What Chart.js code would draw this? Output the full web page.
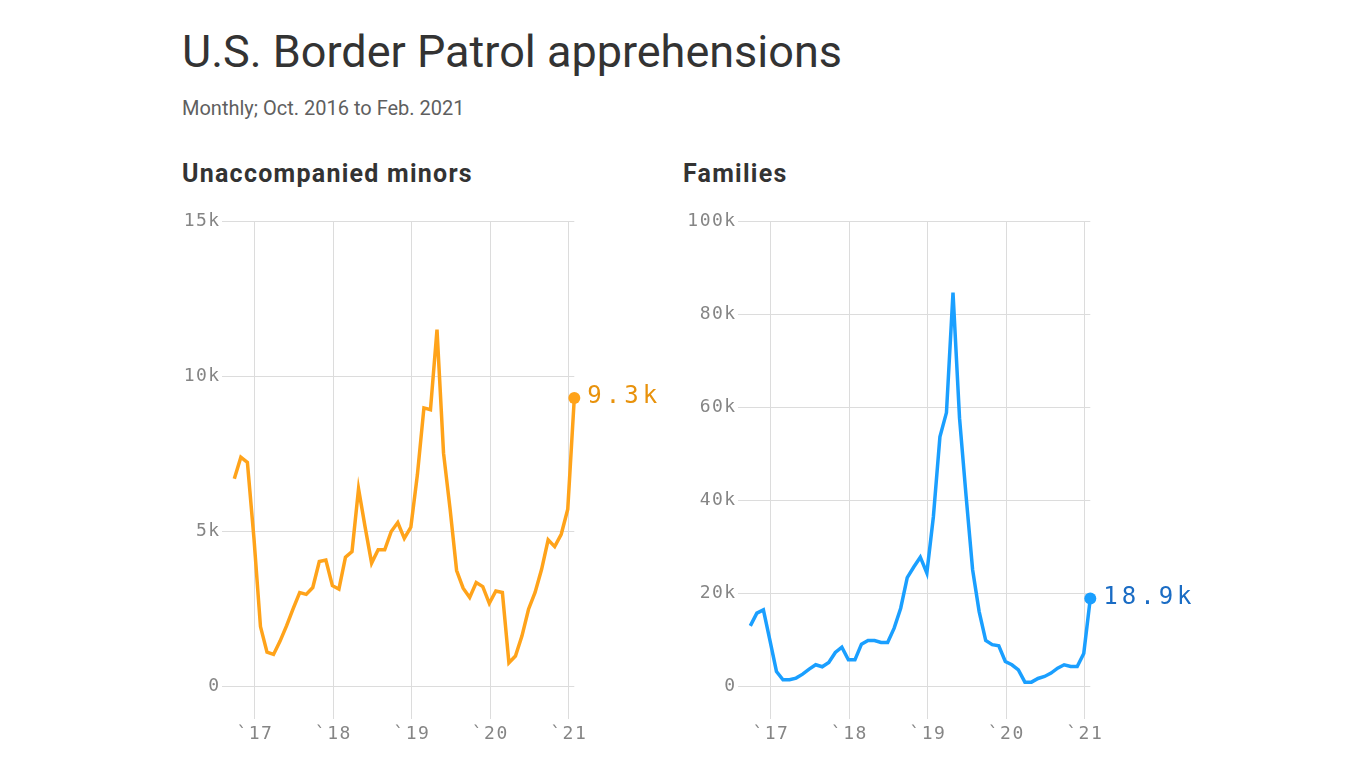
<!DOCTYPE html>
<html>
<head>
<meta charset="utf-8">
<script src="https://cdn.jsdelivr.net/npm/chart.js@4/dist/chart.umd.min.js"></script>
<style>
  body { margin: 0; background: #fff; width: 1366px; height: 768px; overflow: hidden; position: relative; font-family: Roboto, "Liberation Sans", sans-serif; }
  .t { position: absolute; white-space: nowrap; line-height: 1; }
  #title { left: 182px; top: 29px; font-size: 45px; color: #333; }
  #sub { left: 182px; top: 98px; font-size: 20px; color: #5f5f5f; }
  .ptitle { top: 161px; font-size: 25px; font-weight: 700; color: #333; letter-spacing: 1.25px; }
  .box { position: absolute; top: 200px; width: 530px; height: 560px; }
</style>
</head>
<body>
<div class="t" id="title">U.S. Border Patrol apprehensions</div>
<div class="t" id="sub">Monthly; Oct. 2016 to Feb. 2021</div>
<div class="t ptitle" style="left:182px">Unaccompanied minors</div>
<div class="t ptitle" style="left:683px">Families</div>
<div class="box" style="left:150px"><canvas id="minors"></canvas></div>
<div class="box" style="left:666px"><canvas id="families"></canvas></div>
<script>
// months from Oct 2016 to Feb 2021, values in thousands
var months = [
  'Oct 2016','Nov 2016','Dec 2016',
  'Jan 2017','Feb 2017','Mar 2017','Apr 2017','May 2017','Jun 2017','Jul 2017','Aug 2017','Sep 2017','Oct 2017','Nov 2017','Dec 2017',
  'Jan 2018','Feb 2018','Mar 2018','Apr 2018','May 2018','Jun 2018','Jul 2018','Aug 2018','Sep 2018','Oct 2018','Nov 2018','Dec 2018',
  'Jan 2019','Feb 2019','Mar 2019','Apr 2019','May 2019','Jun 2019','Jul 2019','Aug 2019','Sep 2019','Oct 2019','Nov 2019','Dec 2019',
  'Jan 2020','Feb 2020','Mar 2020','Apr 2020','May 2020','Jun 2020','Jul 2020','Aug 2020','Sep 2020','Oct 2020','Nov 2020','Dec 2020',
  'Jan 2021','Feb 2021'
];

var minors = [
  6.69, 7.39, 7.22,
  4.78, 1.92, 1.09, 1.02, 1.45, 1.95, 2.50, 3.02, 2.96, 3.18, 4.02, 4.07,
  3.24, 3.13, 4.16, 4.34, 6.37, 5.14, 3.97, 4.40, 4.40, 4.99, 5.28, 4.77,
  5.13, 6.82, 8.98, 8.92, 11.51, 7.52, 5.72, 3.73, 3.16, 2.86, 3.34, 3.21,
  2.67, 3.07, 3.02, 0.75, 0.97, 1.62, 2.48, 3.02, 3.77, 4.72, 4.50, 4.90,
  5.71, 9.30
];

var families = [
  13.04, 15.76, 16.48,
  9.90, 3.22, 1.43, 1.43, 1.80, 2.65, 3.72, 4.66, 4.23, 5.16, 7.31, 8.45,
  5.73, 5.73, 9.10, 9.89, 9.89, 9.46, 9.46, 12.54, 16.83, 23.42, 25.70, 27.80,
  24.40, 36.50, 53.70, 58.90, 84.70, 57.70, 41.00, 25.10, 16.10, 9.90, 9.00, 8.74,
  5.37, 4.66, 3.58, 0.93, 0.93, 1.72, 2.15, 2.87, 3.94, 4.66, 4.30, 4.30,
  7.10, 18.90
];

var yearLabels = ['`17', '`18', '`19', '`20', '`21'];
var yearStarts = ['Jan 2017', 'Jan 2018', 'Jan 2019', 'Jan 2020', 'Jan 2021'];
var minorsTicks = [0, 5, 10, 15];
var familiesTicks = [0, 20, 40, 60, 80, 100];

var monoFont = '"DejaVu Sans Mono", "Liberation Mono", monospace';

// label next to the last point
var endLabel = {
  id: 'endLabel',
  beforeDraw: function(chart) { chart.ctx.letterSpacing = '1.5px'; },
  afterDatasetsDraw: function(chart, args, opts) {
    var meta = chart.getDatasetMeta(0);
    var pt = meta.data[meta.data.length - 1];
    var ctx = chart.ctx;
    ctx.save();
    ctx.letterSpacing = '4px';
    ctx.font = '24px ' + monoFont;
    ctx.fillStyle = opts.color;
    ctx.textBaseline = 'middle';
    ctx.textAlign = 'left';
    ctx.fillText(opts.text, pt.x + 13, pt.y - 1);
    ctx.restore();
  }
};

function crearPanel(idCanvas, valores, ticksY, minY, maxY, colorLinea, colorTexto) {
  var ctx = document.getElementById(idCanvas).getContext('2d');
  var ultimo = valores.length - 1;

  new Chart(ctx, {
    type: 'line',
    data: {
      datasets: [{
        data: valores.map(function(v, i) { return { x: i, y: v }; }),
        borderColor: colorLinea,
        backgroundColor: colorLinea,
        borderWidth: 3.5,
        tension: 0,
        borderJoinStyle: 'miter',
        pointRadius: function(c) { return c.dataIndex === ultimo ? 6 : 0; },
        pointBorderWidth: 0,
        pointBackgroundColor: colorLinea,
        clip: false
      }]
    },
    options: {
      responsive: true,
      maintainAspectRatio: false,
      animation: false,
      layout: { padding: { left: 0, right: 105.7, top: 21.5, bottom: 11 } },
      plugins: {
        legend: { display: false },
        tooltip: { enabled: false },
        endLabel: { text: valores[ultimo].toFixed(1) + 'k', color: colorTexto }
      },
      scales: {
        x: {
          type: 'linear',
          min: -1.93,
          max: ultimo,
          grid: { color: '#dcdcdc', lineWidth: 1, drawTicks: false },
          border: { display: false },
          afterBuildTicks: function(s) {
            s.ticks = yearStarts.map(function(m) { return { value: months.indexOf(m) + 0.15 }; });
          },
          afterFit: function(s) { s.height = 30; },
          ticks: {
            autoSkip: false,
            maxRotation: 0,
            padding: 5,
            color: '#858585',
            font: { family: monoFont, size: 18 },
            callback: function(v, i) { return yearLabels[i]; }
          }
        },
        y: {
          min: minY,
          max: maxY,
          grid: { color: '#dcdcdc', lineWidth: 1, drawTicks: false },
          border: { display: false },
          afterBuildTicks: function(s) {
            s.ticks = ticksY.map(function(v) { return { value: v }; });
          },
          afterFit: function(s) { s.width = 71.7; },
          ticks: {
            padding: 1,
            color: '#858585',
            font: { family: monoFont, size: 18 },
            callback: function(v) { return v === 0 ? '0' : v + 'k'; }
          }
        }
      }
    },
    plugins: [endLabel]
  });
}

crearPanel('minors', minors, minorsTicks, -1.065, 15, '#FFA31A', '#E8920C');
crearPanel('families', families, familiesTicks, -7, 100, '#1A9FFF', '#1A6CC4');
</script>
</body>
</html>
